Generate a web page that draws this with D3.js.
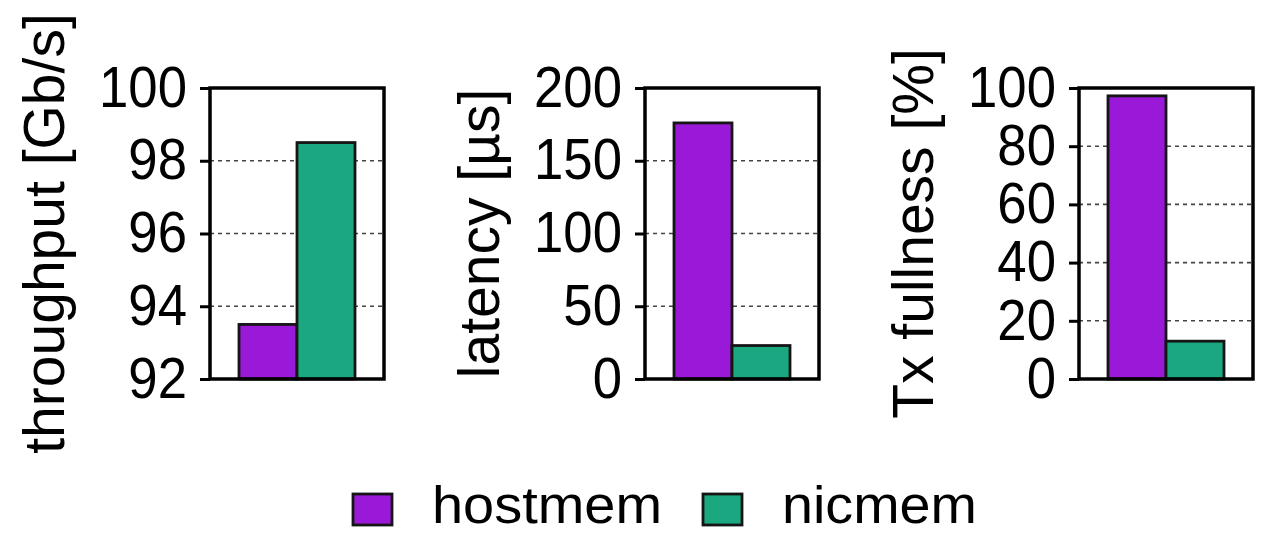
<!DOCTYPE html>
<html>
<head>
<meta charset="utf-8">
<script src="https://cdn.jsdelivr.net/npm/d3@7"></script>
<style>
  body { margin: 0; background: #fff; }
  text { font-family: "Liberation Sans", Arial, sans-serif; fill: #000; }
</style>
</head>
<body>
<div id="chart"></div>
<script>
// data
const groups = ["hostmem", "nicmem"];
const throughput = [93.5, 98.5];
const latency = [176, 23];
const txFullness = [97.3, 13];
const panelLabels = ["throughput [Gb/s]", "latency [µs]", "Tx fullness [%]"];
const yDomains = [[92, 100], [0, 200], [0, 100]];
const yTicks = [[92, 94, 96, 98, 100], [0, 50, 100, 150, 200], [0, 20, 40, 60, 80, 100]];
const colors = ["#9a19d8", "#1ba77f"];

const series = [throughput, latency, txFullness];

// layout
const panelLeft = [210, 645, 1079],
    panelW = 174,
    panelTop = 88,
    panelH = 291;

const svg = d3.select("#chart").append("svg")
    .attr("width", 1263)
    .attr("height", 535);

series.forEach(function (values, p) {
    const g = svg.append("g")
        .attr("transform", `translate(${panelLeft[p]},${panelTop})`);

    const x = d3.scaleBand()
        .domain(groups)
        .range([0, panelW])
        .paddingInner(0)
        .paddingOuter(0.5);

    const y = d3.scaleLinear()
        .domain(yDomains[p])
        .range([panelH, 0]);

    // dashed grid lines, only inside
    const inner = yTicks[p].slice(1, -1);
    g.selectAll(".grid")
        .data(inner)
        .enter()
        .append("line")
        .attr("class", "grid")
        .attr("x1", 0)
        .attr("x2", panelW)
        .attr("y1", d => y(d))
        .attr("y2", d => y(d))
        .attr("stroke", "#444")
        .attr("stroke-width", 1.6)
        .attr("stroke-dasharray", "4,4");

    // bars
    g.selectAll(".bar")
        .data(values)
        .enter()
        .append("rect")
        .attr("class", "bar")
        .attr("x", (d, i) => x(groups[i]))
        .attr("width", x.bandwidth())
        .attr("y", d => y(d))
        .attr("height", d => panelH - y(d))
        .attr("fill", (d, i) => colors[i])
        .attr("stroke", "#151515")
        .attr("stroke-width", 2.8);

    // y axis
    const sx = 0.925;
    const axis = g.append("g")
        .call(d3.axisLeft(y).tickValues(yTicks[p]).tickSize(10).tickPadding(13));
    axis.select(".domain").remove();
    axis.selectAll(".tick line")
        .attr("stroke", "#000")
        .attr("stroke-width", 3);
    axis.selectAll(".tick text")
        .attr("font-size", 57)
        .attr("fill", "#000")
        .attr("x", -23 / sx)
        .attr("transform", `scale(${sx},1)`)
        .style("font-family", "'Liberation Sans', Arial, sans-serif");

    // frame
    g.append("rect")
        .attr("x", 0)
        .attr("y", 0)
        .attr("width", panelW)
        .attr("height", panelH)
        .attr("fill", "none")
        .attr("stroke", "#000")
        .attr("stroke-width", 3.5);

    // axis title
    g.append("text")
        .attr("transform", `translate(-146,${panelH / 2}) rotate(-90)`)
        .attr("text-anchor", "middle")
        .attr("font-size", 57)
        .text(panelLabels[p]);
});

// legend
const legend = svg.append("g").attr("transform", "translate(353,494)");
const legendStep = 350;
const legendTextW = [230, 195];

groups.forEach(function (name, i) {
    const item = legend.append("g")
        .attr("transform", `translate(${i * legendStep},0)`);
    item.append("rect")
        .attr("width", 39)
        .attr("height", 31)
        .attr("fill", colors[i])
        .attr("stroke", "#151515")
        .attr("stroke-width", 2.8);
    item.append("text")
        .attr("x", 79)
        .attr("y", 29)
        .attr("font-size", 51)
        .attr("textLength", legendTextW[i])
        .attr("lengthAdjust", "spacingAndGlyphs")
        .text(name);
});
</script>
</body>
</html>
